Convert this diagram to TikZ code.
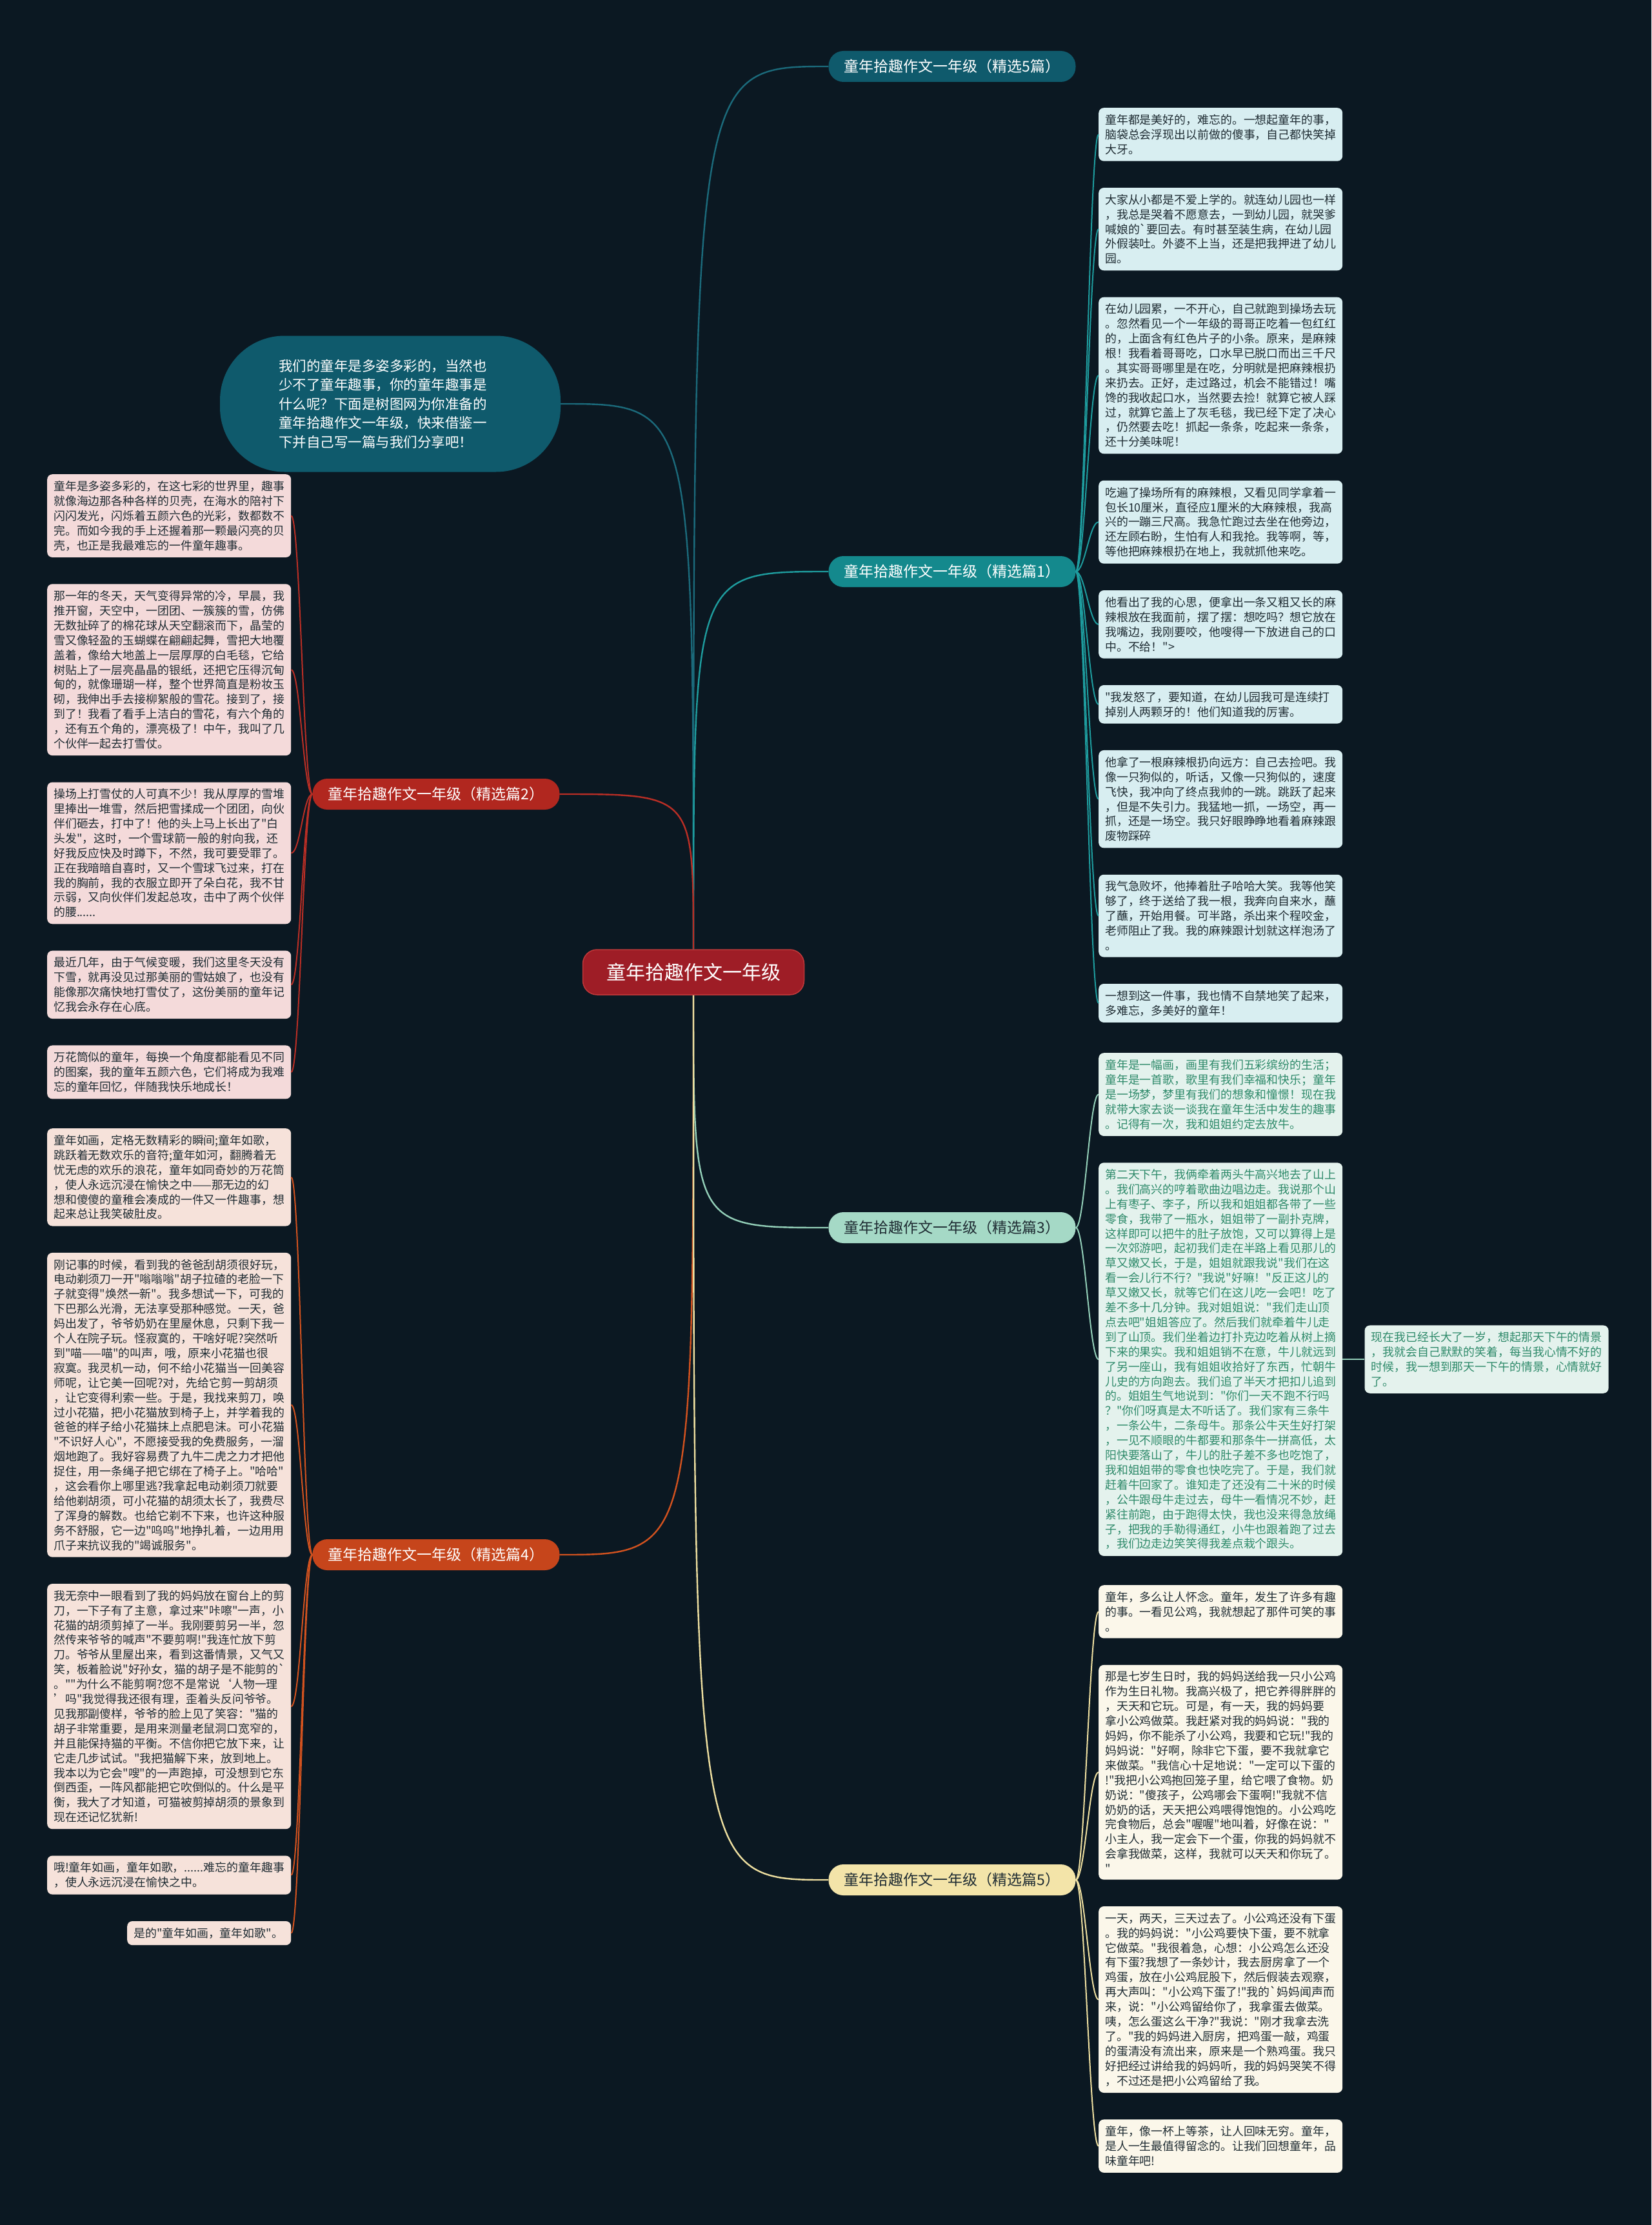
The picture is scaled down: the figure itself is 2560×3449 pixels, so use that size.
\documentclass[tikz,border=0pt]{standalone}
\usepackage{fontspec}
\newfontfamily\cjk{Noto Sans CJK SC}
\usetikzlibrary{positioning}
\definecolor{Night}{HTML}{0B1822}
\definecolor{Deep}{HTML}{0F5A6C}
\definecolor{DeepLine}{HTML}{1B6A7B}
\definecolor{Teal}{HTML}{14898D}
\definecolor{TealLine}{HTML}{1E9C9E}
\definecolor{Mint}{HTML}{A5D9C6}
\definecolor{MintLine}{HTML}{93CFB8}
\definecolor{Cream}{HTML}{F3E4A9}
\definecolor{CreamLine}{HTML}{EEDFA0}
\definecolor{Brick}{HTML}{B1271F}
\definecolor{BrickLine}{HTML}{B92E25}
\definecolor{Rust}{HTML}{C6451B}
\definecolor{RustLine}{HTML}{D2521F}
\definecolor{Crimson}{HTML}{9E1D26}
\definecolor{CrimsonEdge}{HTML}{C0393A}
\definecolor{Ice}{HTML}{D8EEF1}
\definecolor{Frost}{HTML}{E4F2ED}
\definecolor{Ivory}{HTML}{FBF7EA}
\definecolor{Rose}{HTML}{F4DADA}
\definecolor{Peach}{HTML}{F6E2DA}
\definecolor{Ink}{HTML}{1F2C33}
\definecolor{Moss}{HTML}{2E8A6A}
\tikzset{
  root/.style={fill=Crimson,draw=CrimsonEdge,line width=1.5pt,rounded corners=22pt,minimum width=343pt,minimum height=70pt,text=white,font=\cjk\fontsize{30}{36}\selectfont},
  intro/.style={fill=Deep,rounded corners=100pt,minimum width=528pt,minimum height=211pt,text width=346pt,align=left,text=white,font=\cjk\fontsize{21.5}{29.5}\selectfont},
  branch/.style={rounded corners=23pt,minimum width=383pt,minimum height=48pt,inner xsep=20pt,font=\cjk\fontsize{23}{28}\selectfont},
  leaf/.style={rounded corners=8pt,inner xsep=10pt,inner ysep=10pt,text width=358pt,align=left,text=Ink,font=\cjk\fontsize{17.9}{22.9}\selectfont},
  leafice/.style={leaf,fill=Ice},
  leaffrost/.style={leaf,fill=Frost,text=Moss},
  leafivory/.style={leaf,fill=Ivory},
  leafrose/.style={leaf,fill=Rose},
  leafpeach/.style={leaf,fill=Peach},
  trunk/.style={line width=2.4pt},
  twig/.style={line width=2pt}
}
\begin{document}
\begin{tikzpicture}[x=1pt,y=-1pt]
      \useasboundingbox (0,0) rectangle (2560,3449);
      \fill[Night] (0,0) rectangle (2560,3449);
      \node[root] (root) at (1075,1507) {童年拾趣作文一年级};
      \node[intro] (intro) at (605,626) {我们的童年是多姿多彩的，当然也\\少不了童年趣事，你的童年趣事是\\什么呢？下面是树图网为你准备的\\童年拾趣作文一年级，快来借鉴一\\下并自己写一篇与我们分享吧！};
      \node[branch,fill=Deep,text=white] (all5) at (1476,103) {童年拾趣作文一年级（精选5篇）};
      \node[branch,fill=Teal,text=white] (sel1) at (1476,886) {童年拾趣作文一年级（精选篇1）};
      \node[branch,fill=Brick,text=white] (sel2) at (676,1231) {童年拾趣作文一年级（精选篇2）};
      \node[branch,fill=Mint,text=Ink] (sel3) at (1476,1903) {童年拾趣作文一年级（精选篇3）};
      \node[branch,fill=Rust,text=white] (sel4) at (676,2410) {童年拾趣作文一年级（精选篇4）};
      \node[branch,fill=Cream,text=Ink] (sel5) at (1476,2914) {童年拾趣作文一年级（精选篇5）};

      \node[leafice,anchor=north west] (a1) at (1703,167) {童年都是美好的，难忘的。一想起童年的事，\\脑袋总会浮现出以前做的傻事，自己都快笑掉\\大牙。};
      \node[leafice,below=41pt of a1] (a2) {大家从小都是不爱上学的。就连幼儿园也一样\\，我总是哭着不愿意去，一到幼儿园，就哭爹\\喊娘的`要回去。有时甚至装生病，在幼儿园\\外假装吐。外婆不上当，还是把我押进了幼儿\\园。};
      \node[leafice,below=41pt of a2] (a3) {在幼儿园累，一不开心，自己就跑到操场去玩\\。忽然看见一个一年级的哥哥正吃着一包红红\\的，上面含有红色片子的小条。原来，是麻辣\\根！我看着哥哥吃，口水早已脱口而出三千尺\\。其实哥哥哪里是在吃，分明就是把麻辣根扔\\来扔去。正好，走过路过，机会不能错过！嘴\\馋的我收起口水，当然要去捡！就算它被人踩\\过，就算它盖上了灰毛毯，我已经下定了决心\\，仍然要去吃！抓起一条条，吃起来一条条，\\还十分美味呢！};
      \node[leafice,below=41pt of a3] (a4) {吃遍了操场所有的麻辣根，又看见同学拿着一\\包长10厘米，直径应1厘米的大麻辣根，我高\\兴的一蹦三尺高。我急忙跑过去坐在他旁边，\\还左顾右盼，生怕有人和我抢。我等啊，等，\\等他把麻辣根扔在地上，我就抓他来吃。};
      \node[leafice,below=41pt of a4] (a5) {他看出了我的心思，便拿出一条又粗又长的麻\\辣根放在我面前，摆了摆：想吃吗？想它放在\\我嘴边，我刚要咬，他嗖得一下放进自己的口\\中。不给！">};
      \node[leafice,below=41pt of a5] (a6) {"我发怒了，要知道，在幼儿园我可是连续打\\掉别人两颗牙的！他们知道我的厉害。};
      \node[leafice,below=41pt of a6] (a7) {他拿了一根麻辣根扔向远方：自己去捡吧。我\\像一只狗似的，听话，又像一只狗似的，速度\\飞快，我冲向了终点我帅的一跳。跳跃了起来\\，但是不失引力。我猛地一抓，一场空，再一\\抓，还是一场空。我只好眼睁睁地看着麻辣跟\\废物踩碎};
      \node[leafice,below=41pt of a7] (a8) {我气急败坏，他捧着肚子哈哈大笑。我等他笑\\够了，终于送给了我一根，我奔向自来水，蘸\\了蘸，开始用餐。可半路，杀出来个程咬金，\\老师阻止了我。我的麻辣跟计划就这样泡汤了\\。};
      \node[leafice,below=41pt of a8] (a9) {一想到这一件事，我也情不自禁地笑了起来，\\多难忘，多美好的童年！};

      \node[leaffrost,anchor=north west] (c1) at (1703,1632) {童年是一幅画，画里有我们五彩缤纷的生活；\\童年是一首歌，歌里有我们幸福和快乐；童年\\是一场梦，梦里有我们的想象和憧憬！现在我\\就带大家去谈一谈我在童年生活中发生的趣事\\。记得有一次，我和姐姐约定去放牛。};
      \node[leaffrost,below=41pt of c1] (c2) {第二天下午，我俩牵着两头牛高兴地去了山上\\。我们高兴的哼着歌曲边唱边走。我说那个山\\上有枣子、李子，所以我和姐姐都各带了一些\\零食，我带了一瓶水，姐姐带了一副扑克牌，\\这样即可以把牛的肚子放饱，又可以算得上是\\一次郊游吧，起初我们走在半路上看见那儿的\\草又嫩又长，于是，姐姐就跟我说"我们在这\\看一会儿行不行？"我说"好嘛！"反正这儿的\\草又嫩又长，就等它们在这儿吃一会吧！吃了\\差不多十几分钟。我对姐姐说："我们走山顶\\点去吧"姐姐答应了。然后我们就牵着牛儿走\\到了山顶。我们坐着边打扑克边吃着从树上摘\\下来的果实。我和姐姐销不在意，牛儿就远到\\了另一座山，我有姐姐收拾好了东西，忙朝牛\\儿史的方向跑去。我们追了半天才把扣儿追到\\的。姐姐生气地说到："你们一天不跑不行吗\\？"你们呀真是太不听话了。我们家有三条牛\\，一条公牛，二条母牛。那条公牛天生好打架\\，一见不顺眼的牛都要和那条牛一拼高低，太\\阳快要落山了，牛儿的肚子差不多也吃饱了，\\我和姐姐带的零食也快吃完了。于是，我们就\\赶着牛回家了。谁知走了还没有二十米的时候\\，公牛跟母牛走过去，母牛一看情况不妙，赶\\紧往前跑，由于跑得太快，我也没来得急放绳\\子，把我的手勒得通红，小牛也跟着跑了过去\\，我们边走边笑笑得我差点栽个跟头。};
      \node[leaffrost,right=34pt of c2] (c3) {现在我已经长大了一岁，想起那天下午的情景\\，我就会自己默默的笑着，每当我心情不好的\\时候，我一想到那天一下午的情景，心情就好\\了。};

      \node[leafivory,anchor=north west] (e1) at (1703,2457) {童年，多么让人怀念。童年，发生了许多有趣\\的事。一看见公鸡，我就想起了那件可笑的事\\。};
      \node[leafivory,below=41pt of e1] (e2) {那是七岁生日时，我的妈妈送给我一只小公鸡\\作为生日礼物。我高兴极了，把它养得胖胖的\\，天天和它玩。可是，有一天，我的妈妈要\\拿小公鸡做菜。我赶紧对我的妈妈说："我的\\妈妈，你不能杀了小公鸡，我要和它玩!"我的\\妈妈说："好啊，除非它下蛋，要不我就拿它\\来做菜。"我信心十足地说："一定可以下蛋的\\!"我把小公鸡抱回笼子里，给它喂了食物。奶\\奶说："傻孩子，公鸡哪会下蛋啊!"我就不信\\奶奶的话，天天把公鸡喂得饱饱的。小公鸡吃\\完食物后，总会"喔喔"地叫着，好像在说："\\小主人，我一定会下一个蛋，你我的妈妈就不\\会拿我做菜，这样，我就可以天天和你玩了。\\"};
      \node[leafivory,below=41pt of e2] (e3) {一天，两天，三天过去了。小公鸡还没有下蛋\\。我的妈妈说："小公鸡要快下蛋，要不就拿\\它做菜。"我很着急，心想：小公鸡怎么还没\\有下蛋?我想了一条妙计，我去厨房拿了一个\\鸡蛋，放在小公鸡屁股下，然后假装去观察，\\再大声叫："小公鸡下蛋了!"我的`妈妈闻声而\\来，说："小公鸡留给你了，我拿蛋去做菜。\\咦，怎么蛋这么干净?"我说："刚才我拿去洗\\了。"我的妈妈进入厨房，把鸡蛋一敲，鸡蛋\\的蛋清没有流出来，原来是一个熟鸡蛋。我只\\好把经过讲给我的妈妈听，我的妈妈哭笑不得\\，不过还是把小公鸡留给了我。};
      \node[leafivory,below=41pt of e3] (e4) {童年，像一杯上等茶，让人回味无穷。童年，\\是人一生最值得留念的。让我们回想童年，品\\味童年吧!};

      \node[leafrose,anchor=north west] (b1) at (73,735) {童年是多姿多彩的，在这七彩的世界里，趣事\\就像海边那各种各样的贝壳，在海水的陪衬下\\闪闪发光，闪烁着五颜六色的光彩，数都数不\\完。而如今我的手上还握着那一颗最闪亮的贝\\壳，也正是我最难忘的一件童年趣事。};
      \node[leafrose,below=41pt of b1] (b2) {那一年的冬天，天气变得异常的冷，早晨，我\\推开窗，天空中，一团团、一簇簇的雪，仿佛\\无数扯碎了的棉花球从天空翻滚而下，晶莹的\\雪又像轻盈的玉蝴蝶在翩翩起舞，雪把大地覆\\盖着，像给大地盖上一层厚厚的白毛毯，它给\\树贴上了一层亮晶晶的银纸，还把它压得沉甸\\甸的，就像珊瑚一样，整个世界简直是粉妆玉\\砌，我伸出手去接柳絮般的雪花。接到了，接\\到了！我看了看手上洁白的雪花，有六个角的\\，还有五个角的，漂亮极了！中午，我叫了几\\个伙伴一起去打雪仗。};
      \node[leafrose,below=41pt of b2] (b3) {操场上打雪仗的人可真不少！我从厚厚的雪堆\\里捧出一堆雪，然后把雪揉成一个团团，向伙\\伴们砸去，打中了！他的头上马上长出了"白\\头发"，这时，一个雪球箭一般的射向我，还\\好我反应快及时蹲下，不然，我可要受罪了。\\正在我暗暗自喜时，又一个雪球飞过来，打在\\我的胸前，我的衣服立即开了朵白花，我不甘\\示弱，又向伙伴们发起总攻，击中了两个伙伴\\的腰......};
      \node[leafrose,below=41pt of b3] (b4) {最近几年，由于气候变暖，我们这里冬天没有\\下雪，就再没见过那美丽的雪姑娘了，也没有\\能像那次痛快地打雪仗了，这份美丽的童年记\\忆我会永存在心底。};
      \node[leafrose,below=41pt of b4] (b5) {万花筒似的童年，每换一个角度都能看见不同\\的图案，我的童年五颜六色，它们将成为我难\\忘的童年回忆，伴随我快乐地成长！};

      \node[leafpeach,anchor=north west] (d1) at (73,1749) {童年如画，定格无数精彩的瞬间;童年如歌，\\跳跃着无数欢乐的音符;童年如河，翻腾着无\\忧无虑的欢乐的浪花，童年如同奇妙的万花筒\\，使人永远沉浸在愉快之中——那无边的幻\\想和傻傻的童稚会凑成的一件又一件趣事，想\\起来总让我笑破肚皮。};
      \node[leafpeach,below=41pt of d1] (d2) {刚记事的时候，看到我的爸爸刮胡须很好玩，\\电动剃须刀一开"嗡嗡嗡"胡子拉碴的老脸一下\\子就变得"焕然一新"。我多想试一下，可我的\\下巴那么光滑，无法享受那种感觉。一天，爸\\妈出发了，爷爷奶奶在里屋休息，只剩下我一\\个人在院子玩。怪寂寞的，干啥好呢?突然听\\到"喵——喵"的叫声，哦，原来小花猫也很\\寂寞。我灵机一动，何不给小花猫当一回美容\\师呢，让它美一回呢?对，先给它剪一剪胡须\\，让它变得利索一些。于是，我找来剪刀，唤\\过小花猫，把小花猫放到椅子上，并学着我的\\爸爸的样子给小花猫抹上点肥皂沫。可小花猫\\"不识好人心"，不愿接受我的免费服务，一溜\\烟地跑了。我好容易费了九牛二虎之力才把他\\捉住，用一条绳子把它绑在了椅子上。"哈哈"\\，这会看你上哪里逃?我拿起电动剃须刀就要\\给他剃胡须，可小花猫的胡须太长了，我费尽\\了浑身的解数。也给它剃不下来，也许这种服\\务不舒服，它一边"呜呜"地挣扎着，一边用用\\爪子来抗议我的"竭诚服务"。};
      \node[leafpeach,below=41pt of d2] (d3) {我无奈中一眼看到了我的妈妈放在窗台上的剪\\刀，一下子有了主意，拿过来"咔嚓"一声，小\\花猫的胡须剪掉了一半。我刚要剪另一半，忽\\然传来爷爷的喊声"不要剪啊!"我连忙放下剪\\刀。爷爷从里屋出来，看到这番情景，又气又\\笑，板着脸说"好孙女，猫的胡子是不能剪的`\\。""为什么不能剪啊?您不是常说‘人物一理\\’吗"我觉得我还很有理，歪着头反问爷爷。\\见我那副傻样，爷爷的脸上见了笑容："猫的\\胡子非常重要，是用来测量老鼠洞口宽窄的，\\并且能保持猫的平衡。不信你把它放下来，让\\它走几步试试。"我把猫解下来，放到地上。\\我本以为它会"嗖"的一声跑掉，可没想到它东\\倒西歪，一阵风都能把它吹倒似的。什么是平\\衡，我大了才知道，可猫被剪掉胡须的景象到\\现在还记忆犹新!};
      \node[leafpeach,below=41pt of d3] (d4) {哦!童年如画，童年如歌，......难忘的童年趣事\\，使人永远沉浸在愉快之中。};
      \node[leafpeach,text width=234pt,below=41pt of d4.south east,anchor=north east] (d5) {是的"童年如画，童年如歌"。};

      \draw[trunk,DeepLine] (intro.east) .. controls (root |- intro.east) .. (root);
      \draw[trunk,DeepLine] (root) .. controls (root |- all5.west) .. (all5.west);
      \draw[trunk,TealLine] (root) .. controls (root |- sel1.west) .. (sel1.west);
      \draw[trunk,BrickLine] (root) .. controls (root |- sel2.east) .. (sel2.east);
      \draw[trunk,MintLine] (root) .. controls (root |- sel3.west) .. (sel3.west);
      \draw[trunk,RustLine] (root) .. controls (root |- sel4.east) .. (sel4.east);
      \draw[trunk,CreamLine] (root) .. controls (root |- sel5.west) .. (sel5.west);

      \draw[twig,TealLine] (sel1.east) .. controls +(14,0) and +(-14,0) .. (a1.west);
      \draw[twig,TealLine] (sel1.east) .. controls +(14,0) and +(-14,0) .. (a2.west);
      \draw[twig,TealLine] (sel1.east) .. controls +(14,0) and +(-14,0) .. (a3.west);
      \draw[twig,TealLine] (sel1.east) .. controls +(14,0) and +(-14,0) .. (a4.west);
      \draw[twig,TealLine] (sel1.east) .. controls +(14,0) and +(-14,0) .. (a5.west);
      \draw[twig,TealLine] (sel1.east) .. controls +(14,0) and +(-14,0) .. (a6.west);
      \draw[twig,TealLine] (sel1.east) .. controls +(14,0) and +(-14,0) .. (a7.west);
      \draw[twig,TealLine] (sel1.east) .. controls +(14,0) and +(-14,0) .. (a8.west);
      \draw[twig,TealLine] (sel1.east) .. controls +(14,0) and +(-14,0) .. (a9.west);
      \draw[twig,MintLine] (sel3.east) .. controls +(14,0) and +(-14,0) .. (c1.west);
      \draw[twig,MintLine] (sel3.east) .. controls +(14,0) and +(-14,0) .. (c2.west);
      \draw[twig,MintLine] (c2.east) -- (c3.west);
      \draw[twig,CreamLine] (sel5.east) .. controls +(14,0) and +(-14,0) .. (e1.west);
      \draw[twig,CreamLine] (sel5.east) .. controls +(14,0) and +(-14,0) .. (e2.west);
      \draw[twig,CreamLine] (sel5.east) .. controls +(14,0) and +(-14,0) .. (e3.west);
      \draw[twig,CreamLine] (sel5.east) .. controls +(14,0) and +(-14,0) .. (e4.west);
      \draw[twig,BrickLine] (sel2.west) .. controls +(-14,0) and +(14,0) .. (b1.east);
      \draw[twig,BrickLine] (sel2.west) .. controls +(-14,0) and +(14,0) .. (b2.east);
      \draw[twig,BrickLine] (sel2.west) .. controls +(-14,0) and +(14,0) .. (b3.east);
      \draw[twig,BrickLine] (sel2.west) .. controls +(-14,0) and +(14,0) .. (b4.east);
      \draw[twig,BrickLine] (sel2.west) .. controls +(-14,0) and +(14,0) .. (b5.east);
      \draw[twig,RustLine] (sel4.west) .. controls +(-14,0) and +(14,0) .. (d1.east);
      \draw[twig,RustLine] (sel4.west) .. controls +(-14,0) and +(14,0) .. (d2.east);
      \draw[twig,RustLine] (sel4.west) .. controls +(-14,0) and +(14,0) .. (d3.east);
      \draw[twig,RustLine] (sel4.west) .. controls +(-14,0) and +(14,0) .. (d4.east);
      \draw[twig,RustLine] (sel4.west) .. controls +(-14,0) and +(14,0) .. (d5.east);
    \end{tikzpicture}
\end{document}
